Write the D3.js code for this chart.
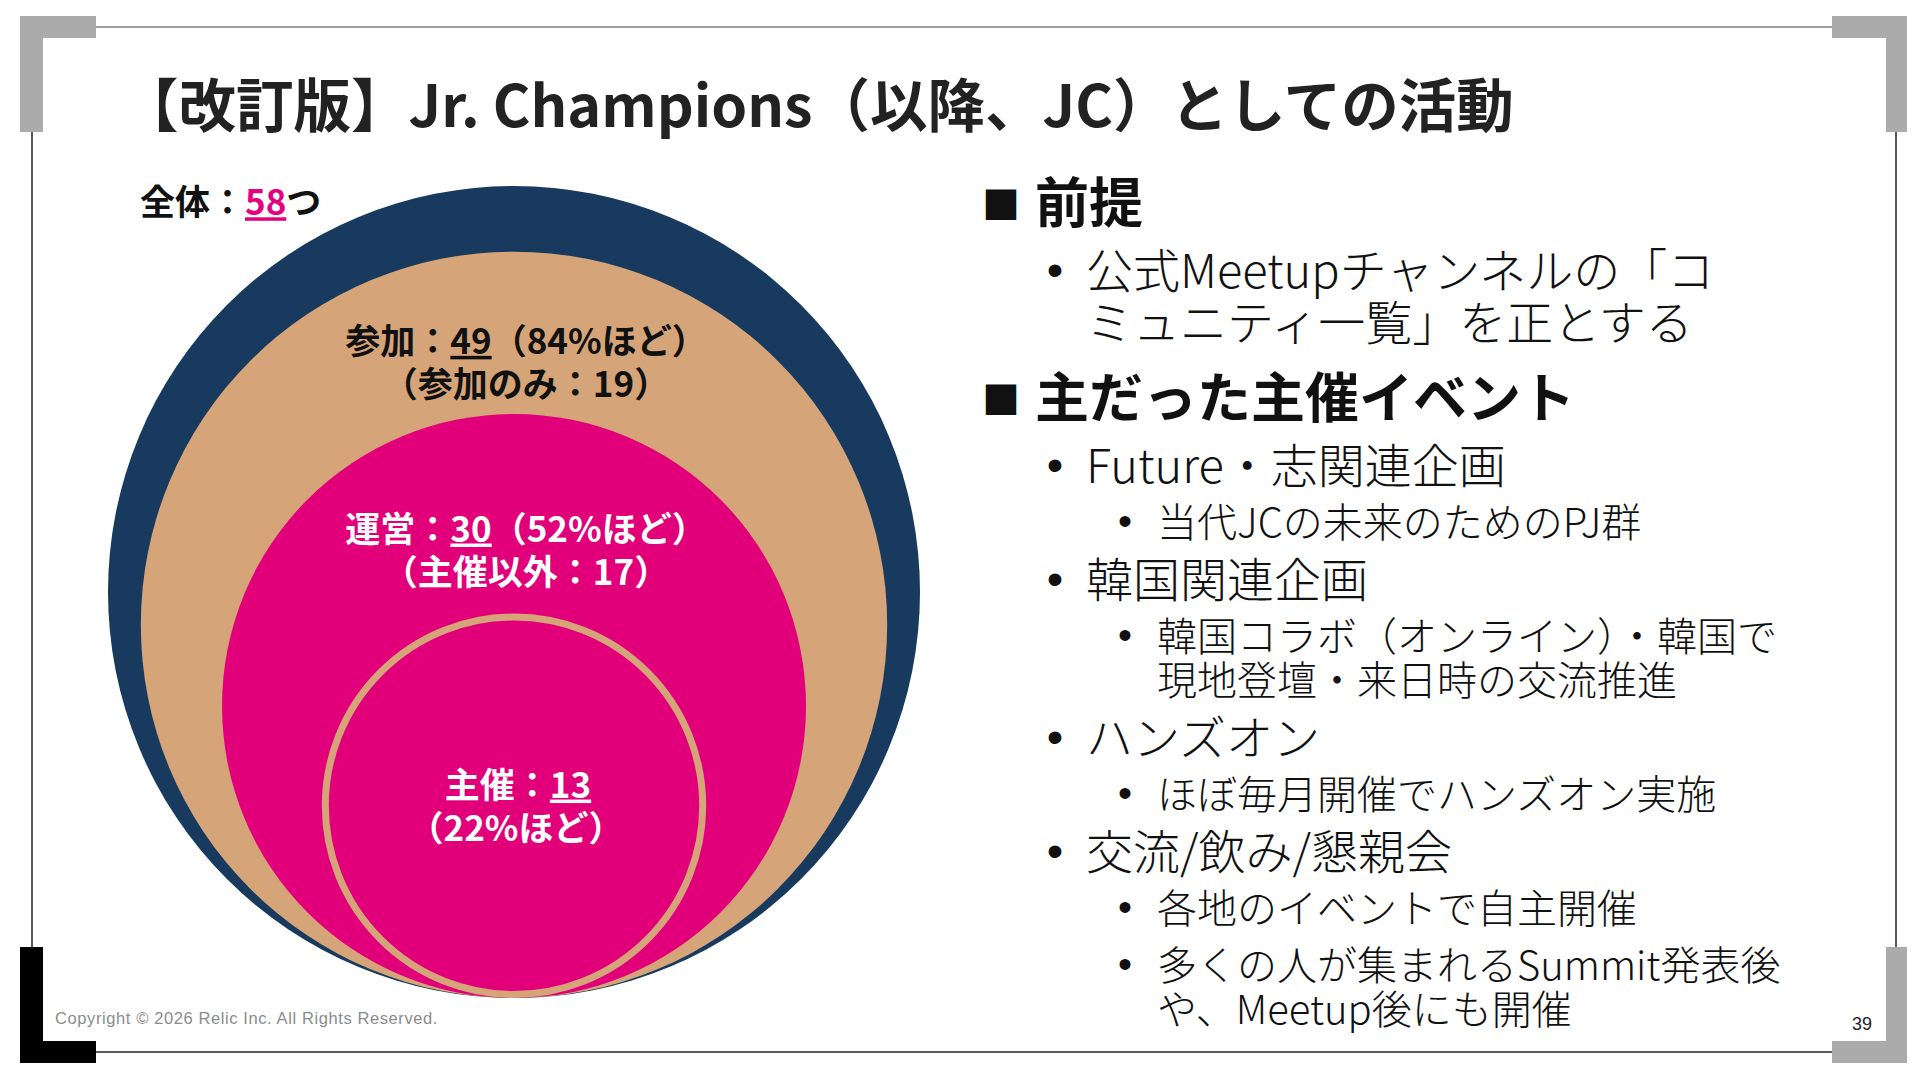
<!DOCTYPE html>
<html>
<head>
<meta charset="utf-8">
<script src="https://cdn.jsdelivr.net/npm/d3@7"></script>
<style>
  body { margin: 0; background: #fff; }
  text { font-family: "Noto Sans CJK JP", "Noto Sans", sans-serif; }
</style>
</head>
<body>
<div class="chart"></div>
<script>
// nested circles: JC activity counts
var circleNames = ["全体", "参加", "運営", "主催"];
var circleCounts = [58, 49, 30, 13];
var circleShares = [null, "84%ほど", "52%ほど", "22%ほど"];
var onlyLabels = [null, "参加のみ", "主催以外", null];
var onlyCounts = [null, 19, 17, null];

// right side text
var premiseLines = ["公式Meetupチャンネルの「コ", "ミュニティ一覧」を正とする"];
var eventNames = [
  ["Future・志関連企画"],
  ["韓国関連企画"],
  ["ハンズオン"],
  ["交流/飲み/懇親会"]
];
var eventDetails = [
  [["当代JCの未来のためのPJ群"]],
  [["韓国コラボ（オンライン）・韓国で", "現地登壇・来日時の交流推進"]],
  [["ほぼ毎月開催でハンズオン実施"]],
  [["各地のイベントで自主開催"], ["多くの人が集まれるSummit発表後", "や、Meetup後にも開催"]]
];

var svgWidth = 1920;
var svgHeight = 1080;

var svg = d3.select(".chart")
  .append("svg")
  .attr("width", svgWidth)
  .attr("height", svgHeight);

svg.append("rect")
  .attr("width", svgWidth)
  .attr("height", svgHeight)
  .attr("fill", "#fff");

// ---- slide frame ----
var frame = svg.append("g");
frame.append("line").attr("x1", 96).attr("x2", 1832).attr("y1", 27).attr("y2", 27)
  .attr("stroke", "#7f7f7f").attr("stroke-width", 1.5);
frame.append("line").attr("x1", 96).attr("x2", 1832).attr("y1", 1052).attr("y2", 1052)
  .attr("stroke", "#222").attr("stroke-width", 1.5);
frame.append("line").attr("x1", 32).attr("x2", 32).attr("y1", 132).attr("y2", 947)
  .attr("stroke", "#222").attr("stroke-width", 1.5);
frame.append("line").attr("x1", 1896).attr("x2", 1896).attr("y1", 132).attr("y2", 947)
  .attr("stroke", "#222").attr("stroke-width", 1.5);

function corner(points, color) {
  frame.append("path")
    .attr("d", d3.line()(points) + "Z")
    .attr("fill", color);
}
corner([[20, 16], [96, 16], [96, 38], [43, 38], [43, 132], [20, 132]], "#ababab");
corner([[1907, 16], [1832, 16], [1832, 38], [1886, 38], [1886, 132], [1907, 132]], "#ababab");
corner([[20, 1063], [96, 1063], [96, 1041], [43, 1041], [43, 947], [20, 947]], "#000");
corner([[1907, 1063], [1832, 1063], [1832, 1041], [1886, 1041], [1886, 947], [1907, 947]], "#ababab");

// title
svg.append("text")
  .attr("x", 121)
  .attr("y", 127)
  .attr("font-size", 57.5)
  .attr("font-weight", 700)
  .attr("fill", "#222")
  .text("【改訂版】Jr. Champions（以降、JC）としての活動");

// footer
svg.append("text")
  .attr("x", 55)
  .attr("y", 1024)
  .attr("font-size", 16.5)
  .attr("letter-spacing", 0.6)
  .attr("fill", "#8c8c8c")
  .style("font-family", "'Liberation Sans', Arial, sans-serif")
  .text("Copyright © 2026 Relic Inc. All Rights Reserved.");

svg.append("text")
  .attr("x", 1852)
  .attr("y", 1030)
  .attr("font-size", 18)
  .attr("fill", "#222")
  .style("font-family", "'Liberation Sans', Arial, sans-serif")
  .text("39");

// ---- nested circles ----
var cx = 514;
var bottomY = 998;
var maxR = 406;

var rScale = d3.scaleSqrt()
  .domain([0, d3.max(circleCounts)])
  .range([0, maxR]);

var color = d3.scaleOrdinal()
  .domain(circleNames)
  .range(["#173a5e", "#d5a479", "#e2007a", "#e2007a"]);

var textColor = d3.scaleOrdinal()
  .domain(circleNames)
  .range(["#111", "#111", "#fff", "#fff"]);

var circleData = circleNames.map(function (name, i) {
  return {
    name: name,
    count: circleCounts[i],
    share: circleShares[i],
    onlyLabel: onlyLabels[i],
    onlyCount: onlyCounts[i]
  };
});

var circlesGroup = svg.append("g");

circlesGroup.selectAll("circle")
  .data(circleData)
  .enter()
  .append("circle")
  .attr("cx", cx)
  .attr("cy", function (d) { return bottomY - rScale(d.count); })
  .attr("r", function (d, i) { return i === 3 ? rScale(d.count) - 3.5 : rScale(d.count); })
  .attr("fill", function (d) { return color(d.name); })
  .attr("stroke", function (d, i) { return i === 3 ? "#d5a479" : "none"; })
  .attr("stroke-width", 7);

// top of each circle, used to put labels in the visible band
function topOf(i) {
  return bottomY - 2 * rScale(circleCounts[i]);
}

var labelSize = 35;
var labelGap = 43;
// full-width closing bracket leaves blank space on the right, nudge to look centred
var labelX = cx + 12;

circleData.forEach(function (d, i) {
  if (i === 0) return;
  var blockCenter;
  if (i < circleData.length - 1) {
    blockCenter = topOf(i) + 0.68 * (topOf(i + 1) - topOf(i));
  } else {
    blockCenter = bottomY - rScale(d.count);
  }
  var y1 = blockCenter - labelGap / 2 + 0.38 * labelSize;
  var y2 = y1 + labelGap;

  var line1 = circlesGroup.append("text")
    .attr("x", d.onlyLabel ? labelX : cx + 4)
    .attr("y", y1)
    .attr("text-anchor", "middle")
    .attr("font-size", labelSize)
    .attr("font-weight", 700)
    .attr("fill", textColor(d.name));
  line1.append("tspan").text(d.name + "：");
  line1.append("tspan").style("text-decoration", "underline").text(d.count);

  var second;
  if (d.onlyLabel) {
    line1.append("tspan").text("（" + d.share + "）");
    second = "（" + d.onlyLabel + "：" + d.onlyCount + "）";
  } else {
    second = "（" + d.share + "）";
  }

  circlesGroup.append("text")
    .attr("x", d.onlyLabel ? labelX : cx + 2)
    .attr("y", y2)
    .attr("text-anchor", "middle")
    .attr("font-size", labelSize)
    .attr("font-weight", 700)
    .attr("fill", textColor(d.name))
    .text(second);
});

// total label
var totalLabel = svg.append("text")
  .attr("x", 140)
  .attr("y", 202 + 0.38 * 35)
  .attr("font-size", 35)
  .attr("font-weight", 700)
  .attr("fill", "#111");
totalLabel.append("tspan").text(circleNames[0] + "：");
totalLabel.append("tspan")
  .attr("fill", "#e4007f")
  .style("text-decoration", "underline")
  .text(circleCounts[0]);
totalLabel.append("tspan").text("つ");

// ---- right side outline ----
var rows = [];
rows.push({ level: 0, lines: ["前提"] });
rows.push({ level: 1, lines: premiseLines });
rows.push({ level: 0, lines: ["主だった主催イベント"] });
eventNames.forEach(function (name, i) {
  rows.push({ level: 1, lines: name });
  eventDetails[i].forEach(function (det) {
    rows.push({ level: 2, lines: det });
  });
});

var levelSize = [54, 47, 40];
var levelText = [1035, 1086, 1157];
var levelBullet = [1001, 1055, 1125];
var wrapGap = [0, 52, 44];

var outline = svg.append("g");
var y = 202;
rows.forEach(function (row, i) {
  if (i > 0) {
    var prev = rows[i - 1];
    if (row.level === 0) y += 75;
    else if (prev.level === 0) y += 68;
    else y += 57;
  }
  row.lines.forEach(function (line, j) {
    if (j > 0) y += wrapGap[row.level];
    var fs = levelSize[row.level];
    var base = y + 0.38 * fs;
    if (j === 0) {
      if (row.level === 0) {
        outline.append("text")
          .attr("x", levelBullet[0])
          .attr("y", base - 4)
          .attr("text-anchor", "middle")
          .attr("font-size", 38)
          .attr("fill", "#111")
          .text("■");
      } else {
        outline.append("text")
          .attr("x", levelBullet[row.level])
          .attr("y", base - 2)
          .attr("text-anchor", "middle")
          .attr("font-size", fs)
          .attr("fill", "#111")
          .style("font-family", "'Liberation Sans', Arial, sans-serif")
          .text("•");
      }
    }
    outline.append("text")
      .attr("x", levelText[row.level])
      .attr("y", base)
      .attr("font-size", fs)
      .attr("font-weight", row.level === 0 ? 700 : 300)
      .attr("fill", "#111")
      .text(line);
  });
});
</script>
</body>
</html>
